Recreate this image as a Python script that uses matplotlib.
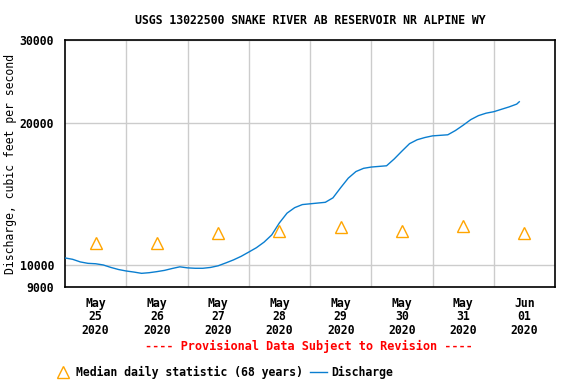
import datetime as dt
import matplotlib
matplotlib.use("Agg")
import matplotlib.pyplot as plt
from matplotlib.ticker import FixedLocator, NullLocator, FixedFormatter

start = dt.datetime(2020, 5, 25)

# discharge, read every 3 hours from May 25 00:00
hours = [0, 3, 6, 9, 12, 15, 18, 21, 24, 27, 30, 33, 36, 39, 42, 45, 48, 51, 54,
         57, 60, 63, 66, 69, 72, 75, 78, 81, 84, 87, 90, 93, 96, 99, 102, 105,
         108, 111, 114, 117, 120, 123, 126, 129, 132, 135, 138, 141, 144, 147,
         150, 153, 156, 159, 162, 165, 168, 171, 174, 177, 178]
discharge = [10370, 10300, 10170, 10100, 10080, 10020, 9900, 9800, 9730, 9680,
             9620, 9650, 9700, 9760, 9850, 9930, 9880, 9860, 9860, 9900, 9980,
             10120, 10270, 10450, 10670, 10900, 11200, 11600, 12300, 12900,
             13250, 13450, 13500, 13550, 13600, 13900, 14600, 15300, 15800,
             16050, 16150, 16200, 16250, 16800, 17450, 18100, 18450, 18650,
             18800, 18850, 18900, 19300, 19800, 20350, 20750, 21000, 21150,
             21400, 21650, 21950, 22200]

# median daily statistic, plotted at noon
median_days = ["2020-05-25", "2020-05-26", "2020-05-27", "2020-05-28",
               "2020-05-29", "2020-05-30", "2020-05-31", "2020-06-01"]
median_vals = [11150, 11150, 11690, 11830, 12080, 11830, 12140, 11730]

tick_labels = ["May\n25\n2020", "May\n26\n2020", "May\n27\n2020", "May\n28\n2020",
               "May\n29\n2020", "May\n30\n2020", "May\n31\n2020", "Jun\n01\n2020"]

plt.rcParams['font.family'] = 'DejaVu Sans Mono'
plt.rcParams['font.weight'] = 'bold'
plt.rcParams['font.size'] = 8.3

t = [start + dt.timedelta(hours=h) for h in hours]
md = [dt.datetime.strptime(d, "%Y-%m-%d") + dt.timedelta(hours=12) for d in median_days]

fig = plt.figure(figsize=(5.76, 3.84), dpi=100)
ax = fig.add_axes([65/576, 1 - 287/384, 490/576, 247/384])

ax.plot(t, discharge, color='#0a7ed0', lw=1.0, label='Discharge', zorder=3)
ax.plot(md, median_vals, linestyle='none', marker='^', markersize=8,
        markerfacecolor='none', markeredgecolor='#ffa500', markeredgewidth=1.0,
        label='Median daily statistic (68 years)', zorder=4)

ax.set_yscale('log')
ax.set_ylim(9000, 30000)
ax.yaxis.set_major_locator(FixedLocator([9000, 10000, 20000, 30000]))
ax.yaxis.set_major_formatter(FixedFormatter(['9000', '10000', '20000', '30000']))
ax.yaxis.set_minor_locator(NullLocator())

ax.set_xlim(start, start + dt.timedelta(days=8))
ax.set_xticks([start + dt.timedelta(days=i, hours=12) for i in range(8)])
ax.set_xticklabels(tick_labels, linespacing=1.05)
ax.set_xticks([start + dt.timedelta(days=i) for i in range(1, 8)], minor=True)
ax.tick_params(which='both', length=0)
ax.tick_params(axis='x', pad=7)
ax.tick_params(axis='y', pad=8)

ax.grid(False)
ax.xaxis.grid(True, which='minor', color='#cccccc', lw=1)
ax.yaxis.grid(True, which='major', color='#cccccc', lw=1)
for s in ax.spines.values():
    s.set_linewidth(1.2)

ax.set_ylabel('Discharge, cubic feet per second', labelpad=2)
fig.text(310/576, 1 - 20/384, 'USGS 13022500 SNAKE RIVER AB RESERVOIR NR ALPINE WY',
         ha='center', va='center')
fig.text(309/576, 1 - 346/384, '---- Provisional Data Subject to Revision ----',
         ha='center', va='center', color='red', fontsize=8.6)

h, l = ax.get_legend_handles_labels()
fig.legend(h[::-1], l[::-1], loc='center left', bbox_to_anchor=(49/576, 1 - 372/384),
           ncol=2, frameon=False, handlelength=1.4, handletextpad=0.4,
           columnspacing=0.7, borderpad=0, fontsize=8.3)

fig.savefig('out.png', dpi=100)
